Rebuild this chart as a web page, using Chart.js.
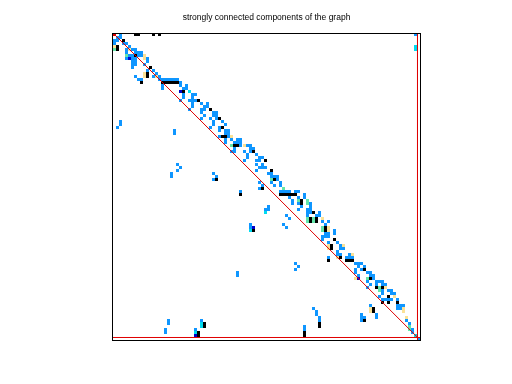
<!DOCTYPE html>
<html>
<head>
<meta charset="utf-8">
<script src="https://cdn.jsdelivr.net/npm/chart.js@4"></script>
<style>
  html, body { margin: 0; padding: 0; background: #fff; }
  canvas { display: block; }
</style>
</head>
<body>
<canvas id="spyChart" width="512" height="384"></canvas>
<script>
// nonzero cells as [column, row], one list per colour
const blueCells = [
  [2,0],[100,0],[1,1],[2,1],[0,2],[1,2],[0,3],[3,3],[4,3],[5,4],[4,5],[6,5],[7,5],[4,6],[7,6],[8,6],[9,6],
  [8,7],[9,7],[5,7],[6,7],[4,8],[6,8],[7,8],[11,8],[11,9],[6,9],[7,9],[6,10],[7,10],[10,10],[6,11],
  [11,12],[13,12],[14,13],[13,14],[15,14],[7,14],[8,15],[9,15],[15,15],[16,15],[17,15],[18,15],[19,15],[20,15],[21,15],
  [22,16],[16,17],[22,17],[24,17],[16,18],[23,18],[24,18],[23,20],[26,20],[27,20],[23,21],[26,21],[22,22],[25,22],[26,22],[27,22],
  [26,23],[29,23],[31,23],[26,24],[30,24],[31,24],[25,25],[29,25],[30,25],[29,26],[33,26],[34,26],[30,27],[33,27],[34,27],
  [29,28],[32,28],[34,28],[2,29],[33,29],[36,29],[2,30],[33,30],[37,30],[1,31],[32,31],[35,31],[20,32],[35,32],[37,32],[38,32],
  [20,33],[37,33],[38,33],[35,34],[38,34],[37,35],[39,35],[41,35],[42,35],[37,36],[40,36],[41,36],[42,36],[42,37],[40,38],
  [44,37],[45,37],[45,38],[46,38],[40,39],[39,39],[43,39],[45,39],[44,40],[47,40],[44,41],[48,41],[49,41],[21,43],[43,42],[47,42],[48,42],
  [22,44],[47,43],[49,43],[21,45],[48,44],[49,44],[50,44],[19,46],[33,46],[47,45],[19,47],[34,47],[51,46],[52,46],[52,47],[33,48],[53,47],[54,47],
  [48,49],[54,48],[49,50],[52,49],[55,49],[48,51],[53,50],[55,50],[42,52],[55,52],[56,52],[57,52],[58,52],[60,52],[61,52],
  [63,53],[58,54],[61,54],[63,54],[59,55],[59,56],[61,56],[65,56],[51,57],[62,57],[65,57],[50,58],[51,58],[61,58],[64,58],[65,58],
  [64,59],[65,59],[68,59],[57,60],[64,60],[67,60],[68,60],[58,61],[69,62],[71,62],[56,63],[45,63],[70,63],[45,64],[57,64],
  [73,65],[70,66],[71,66],[73,66],[69,67],[70,67],[71,67],[69,68],[71,69],[74,69],[75,70],[75,71],[76,71],[74,72],
  [74,73],[75,73],[78,73],[71,74],[77,74],[78,74],[79,74],[60,76],[80,76],[81,76],[82,76],[61,77],[81,77],[83,77],[60,78],
  [80,78],[82,78],[41,79],[80,79],[84,79],[85,79],[41,80],[81,80],[85,80],[86,80],[86,81],[84,82],[87,82],[88,82],[89,82],
  [85,83],[87,83],[89,83],[90,83],[84,84],[89,85],[91,85],[92,85],[89,86],[92,86],[93,86],[88,87],[89,88],[90,88],[91,88],[92,88],[94,88],
  [85,90],[94,90],[95,90],[96,90],[94,91],[95,91],[66,91],[67,92],[67,93],[82,93],[87,93],[82,94],[83,94],[87,94],[68,94],[68,95],
  [82,95],[97,95],[18,95],[18,96],[29,95],[98,96],[63,97],[63,98],[17,98],[17,99],[27,98],[99,98],[99,99],[101,101]
];
const blackCells = [
  [7,0],[8,0],[13,0],[15,0],[3,2],[1,4],[1,5],[7,7],[12,11],[11,13],[11,14],[9,16],
  [16,16],[17,16],[18,16],[19,16],[20,16],[21,16],[23,19],[28,22],[32,25],[35,28],[36,31],[36,34],[37,34],[40,37],[41,37],
  [46,39],[50,42],[34,48],[52,45],[53,48],[49,51],[42,53],[55,53],[56,53],[57,53],[58,53],[59,53],[60,53],[62,55],[62,56],
  [66,59],[65,61],[67,61],[65,62],[67,62],[70,64],[70,65],[46,65],[73,68],[72,70],[72,71],[71,75],[75,74],[77,75],[78,75],[79,75],
  [83,78],[85,81],[87,84],[89,84],[91,87],[89,89],[91,89],[94,89],[86,91],[86,92],[83,95],[68,96],[68,97],[30,96],[30,97],
  [63,99],[63,100],[28,99],[28,100]
];
const navyCells = [[5,8],[22,19],[46,64],[81,81],[27,100]];
const yellowCells = [
  [0,4],[5,5],[10,7],[10,8],[14,14],[10,13],[10,14],[39,34],[43,37],[69,61],[71,64],[71,65],[71,70],[71,71],[76,70],
  [79,73],[74,74],[80,81],[90,84],[93,87],[96,91],[96,92],[85,91],[85,92],[97,94]
];
const greenCells = [
  [0,5],[4,7],[39,37],[52,48],[56,51],[61,55],[64,55],[64,56],[64,61],[64,62],[66,61],[66,62],[69,64],[69,65],[84,81],[88,84],[88,85],[98,97],[98,98]
];
const cyanCells = [[100,4],[100,5],[25,19],[50,59],[45,65],[27,99],[29,96],[29,97],[100,100]];
const redCells = [[0,0]];
// dmperm style guide lines, [column, row]
const diagonalLine = [[-0.5,-0.5],[100.8,100.76]];
const lastColumnLine = [[100.6,-1],[100.6,102]];
const lastRowLine = [[-1,100.6],[102,100.6]];
const chartTitle = 'strongly connected components of the graph';

function toPoints(list) {
  return list.map(function(c) { return { x: c[0], y: c[1] }; });
}

function cellSet(list, color) {
  return {
    type: 'scatter',
    data: toPoints(list),
    backgroundColor: color,
    borderWidth: 0,
    pointStyle: 'rect',
    pointRadius: 3 * Math.SQRT1_2, // gives a 3px square
    pointHoverRadius: 0,
    clip: false
  };
}

function lineSet(list, width) {
  return {
    type: 'line',
    data: toPoints(list),
    borderColor: '#e00000',
    borderWidth: width,
    pointRadius: 0,
    fill: false
  };
}

new Chart(document.getElementById('spyChart'), {
  data: {
    datasets: [
      lineSet(diagonalLine, 1),
      lineSet(lastColumnLine, 1),
      lineSet(lastRowLine, 1),
      cellSet(redCells, '#e00000'),
      cellSet(blackCells, '#000000'),
      cellSet(navyCells, '#0000c8'),
      cellSet(cyanCells, '#00dcf0'),
      cellSet(greenCells, '#64e6aa'),
      cellSet(yellowCells, '#fae196'),
      cellSet(blueCells, '#0f96ff')
    ]
  },
  options: {
    responsive: false,
    animation: false,
    layout: { padding: { left: 112.5, right: 91.5, bottom: 43.5, top: 0 } },
    scales: {
      x: { type: 'linear', display: false, min: -0.664, max: 101.6 },
      y: { type: 'linear', display: false, reverse: true, min: -0.332, max: 101.6 }
    },
    plugins: {
      legend: { display: false },
      tooltip: { enabled: false },
      title: {
        display: true,
        text: chartTitle,
        color: '#000',
        font: { family: 'Liberation Sans', size: 8.5, weight: 'normal', lineHeight: 1 },
        padding: { top: 13.5, bottom: 11.5 }
      }
    }
  },
  plugins: [{
    // keep the squares on whole pixels so they stay crisp
    id: 'pixelSnap',
    afterDatasetsUpdate: function(chart) {
      chart.getSortedVisibleDatasetMetas().forEach(function(meta) {
        if (meta.type !== 'scatter') return;
        meta.data.forEach(function(el) {
          el.x = Math.round(el.x - 1.5) + 1.5;
          el.y = Math.round(el.y - 1.5) + 1.5;
        });
      });
    }
  }, {
    id: 'frameBox',
    afterDraw: function(chart) {
      const a = chart.chartArea;
      const ctx = chart.ctx;
      ctx.save();
      ctx.strokeStyle = '#000';
      ctx.lineWidth = 1;
      ctx.strokeRect(a.left, a.top, a.right - a.left, a.bottom - a.top);
      ctx.restore();
    }
  }]
});
</script>
</body>
</html>
